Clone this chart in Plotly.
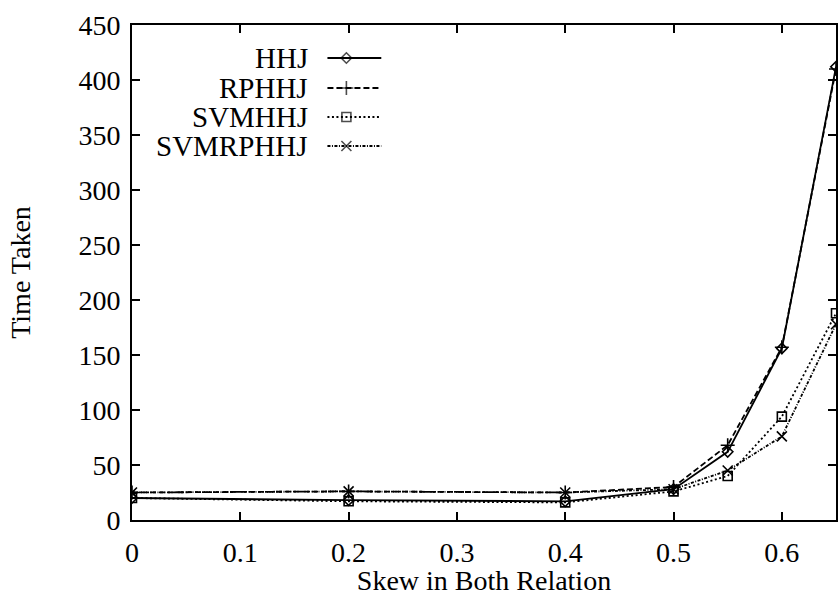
import plotly.graph_objects as go

# ---- data ----
skew = [0, 0.2, 0.4, 0.5, 0.55, 0.6, 0.65]
hhj = [20, 18, 17, 28, 62, 156, 412]
rphhj = [25, 26, 25, 30, 68, 157, 410]
svmhhj = [20, 17, 16, 26, 40, 94, 188]
svmrphhj = [25, 26, 25, 28, 45, 76, 178]
series_names = ["HHJ", "RPHHJ", "SVMHHJ", "SVMRPHHJ"]
x_ticks = [0, 0.1, 0.2, 0.3, 0.4, 0.5, 0.6]
y_ticks = [0, 50, 100, 150, 200, 250, 300, 350, 400, 450]

W, H = 840, 596
L, R, T, B = 132, 2, 25, 76
PW, PH = W - L - R, H - T - B
FONT = "Liberation Serif"

styles = [
    dict(dash="solid", symbol="diamond-open", size=8),
    dict(dash="6px,3px", symbol="cross-thin-open", size=10),
    dict(dash="2px,2.5px", symbol="square-open", size=9),
    dict(dash="3px,1.5px,1px,1.5px", symbol="x-thin-open", size=10),
]
values = [hhj, rphhj, svmhhj, svmrphhj]

fig = go.Figure()
for name, ys, st in zip(series_names, values, styles):
    fig.add_trace(go.Scatter(
        x=skew, y=ys, mode="lines+markers", name=name, showlegend=False,
        line=dict(color="black", width=1.8, dash=st["dash"]),
        marker=dict(symbol=st["symbol"], size=st["size"], color="black",
                    line=dict(color="black", width=1.6)),
    ))

# custom legend (text left, sample right), drawn on a hidden overlay axis
def px_x(p):
    return (p - L) / PW

def px_y(p):
    return (H - B - p) / PH

rows = [58, 88, 117, 146]
for name, st, ry in zip(series_names, styles, rows):
    fig.add_trace(go.Scatter(
        x=[px_x(328), px_x(347), px_x(382)], y=[px_y(ry)] * 3,
        xaxis="x2", yaxis="y2", mode="lines+markers", showlegend=False,
        hoverinfo="skip",
        line=dict(color="black", width=1.8, dash=st["dash"]),
        marker=dict(symbol=st["symbol"], size=[0, st["size"], 0], color="black",
                    line=dict(color="black", width=1.6)),
    ))
    fig.add_annotation(
        text=name, xref="paper", yref="paper", x=px_x(311), y=px_y(ry),
        xanchor="right", yanchor="middle", showarrow=False,
        font=dict(family=FONT, size=29, color="black"),
    )

axis_common = dict(
    showline=True, linecolor="black", linewidth=1.8, mirror="ticks",
    ticks="inside", ticklen=8, tickwidth=1.5, tickcolor="black",
    showgrid=False, zeroline=False,
    tickfont=dict(family=FONT, size=28, color="black"),
)

fig.update_layout(
    width=W, height=H,
    margin=dict(l=L, r=R, t=T, b=B),
    plot_bgcolor="white", paper_bgcolor="white",
    xaxis=dict(range=[0, 0.65], tickvals=x_ticks,
               ticktext=[f"{v:g}" for v in x_ticks],
               ticklabelstandoff=6,
               title=dict(text="Skew in Both Relation", standoff=2,
                          font=dict(family=FONT, size=28, color="black")),
               **axis_common),
    yaxis=dict(range=[0, 450], tickvals=y_ticks, ticklabelstandoff=4,
               title=dict(text="Time Taken", standoff=40,
                          font=dict(family=FONT, size=28, color="black")),
               **axis_common),
    xaxis2=dict(range=[0, 1], overlaying="x", visible=False, fixedrange=True),
    yaxis2=dict(range=[0, 1], overlaying="y", visible=False, fixedrange=True),
    showlegend=False,
)

fig.write_html("out.html")
